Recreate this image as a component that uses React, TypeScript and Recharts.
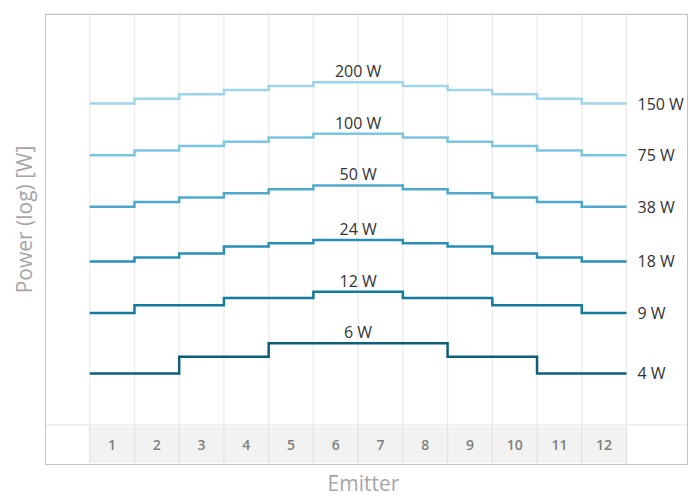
import { LineChart, Line, XAxis, YAxis, CartesianGrid, ReferenceLine } from 'recharts'

const emitters = [1, 2, 3, 4, 5, 6, 7, 8, 9, 10, 11, 12]
const boundaries = [0.5, 1.5, 2.5, 3.5, 4.5, 5.5, 6.5, 7.5, 8.5, 9.5, 10.5, 11.5, 12.5]
const yTicks = [2, 3, 4, 5, 6, 7, 8, 9, 10, 20, 30, 40, 50, 60, 70, 80, 90, 100, 200, 300, 400]

const power6 = [4, 4, 5, 5, 6, 6, 6, 6, 5, 5, 4, 4]
const power12 = [9, 10, 10, 11, 11, 12, 12, 11, 11, 10, 10, 9]
const power24 = [18, 19, 20, 22, 23, 24, 24, 23, 22, 20, 19, 18]
const power50 = [37.5, 40, 42.5, 45, 47.5, 50, 50, 47.5, 45, 42.5, 40, 37.5]
const power100 = [75, 80, 85, 90, 95, 100, 100, 95, 90, 85, 80, 75]
const power200 = [150, 160, 170, 180, 190, 200, 200, 190, 180, 170, 160, 150]

const series = [
  { key: 'p6', values: power6, color: '#0c5f7b' },
  { key: 'p12', values: power12, color: '#117a9d' },
  { key: 'p24', values: power24, color: '#2a8eb6' },
  { key: 'p50', values: power50, color: '#4eaacd' },
  { key: 'p100', values: power100, color: '#7dc4df' },
  { key: 'p200', values: power200, color: '#9fd4ea' },
]

const FONT = '"Open Sans", sans-serif'
const CELL_W = 44.72

// one row per emitter, placed at its left edge, plus a closing row at the right edge
const rows = emitters.map((e, i) => {
  const row: Record<string, number> = { pos: e - 0.5 }
  series.forEach((s) => (row[s.key] = s.values[i]))
  return row
})
const closing: Record<string, number> = { pos: 12.5 }
series.forEach((s) => (closing[s.key] = s.values[s.values.length - 1]))
const chartData = [...rows, closing]

const makeLabel = (values: number[]) => (props: any) => {
  const { x, y, index } = props
  if (index === 6) {
    return (
      <text x={x} y={y - 5} textAnchor="middle" fill="#333" fontSize={16} fontFamily={FONT}>
        {`${Math.max(...values)} W`}
      </text>
    )
  }
  if (index === chartData.length - 1) {
    return (
      <text x={x + 11} y={y + 6} textAnchor="start" fill="#333" fontSize={16} fontFamily={FONT}>
        {`${Math.round(values[values.length - 1])} W`}
      </text>
    )
  }
  return <g />
}

const EmitterTick = (props: any) => {
  const { x, y, payload } = props
  const left = x - CELL_W / 2
  const last = payload.value === emitters[emitters.length - 1]
  return (
    <g>
      <rect x={left} y={y + 2} width={CELL_W} height={36} fill="#f2f2f2" />
      <line x1={left} x2={left} y1={y} y2={y + 40} stroke="#e4e4e4" strokeWidth={1.3} />
      {last && <line x1={left + CELL_W} x2={left + CELL_W} y1={y} y2={y + 40} stroke="#e4e4e4" strokeWidth={1.3} />}
      <text x={x} y={y + 25} textAnchor="middle" fill="#808080" fontSize={14} fontWeight={600} fontFamily={FONT}>
        {payload.value}
      </text>
    </g>
  )
}

export default function App() {
  return (
    <div style={{ position: 'fixed', left: 0, top: 0, width: 689, height: 496, background: '#fff' }}>
      <LineChart width={689} height={496} data={chartData} margin={{ top: 14, right: 1, left: 0, bottom: 0 }}>
        <CartesianGrid vertical={false} stroke="#ececec" strokeWidth={1.3} />
        {boundaries.map((b) => (
          <ReferenceLine key={b} x={b} stroke="#ececec" strokeWidth={1.3} />
        ))}
        <XAxis
          dataKey="pos"
          type="number"
          domain={[-0.5, 13.875]}
          ticks={emitters}
          allowDataOverflow
          height={71}
          axisLine={false}
          tickLine={false}
          tickSize={0}
          tickMargin={0}
          tick={<EmitterTick />}
          interval={0}
          label={{ value: 'Emitter', position: 'insideBottom', offset: 5, dx: -3, fill: '#a6a6a6', fontSize: 21, fontFamily: FONT }}
        />
        <YAxis
          scale="log"
          domain={[2, 500]}
          ticks={yTicks}
          allowDataOverflow
          width={45}
          tick={false}
          axisLine={false}
          tickLine={false}
          label={{ value: 'Power (log) [W]', angle: -90, position: 'center', dx: 2, fill: '#a6a6a6', fontSize: 21, fontFamily: FONT }}
        />
        {series.map((s) => (
          <Line
            key={s.key}
            dataKey={s.key}
            type="stepAfter"
            stroke={s.color}
            strokeWidth={2.5}
            dot={false}
            activeDot={false}
            isAnimationActive={false}
            label={makeLabel(s.values)}
          />
        ))}
      </LineChart>
      <div
        style={{
          position: 'absolute',
          left: 45,
          top: 14,
          width: 643,
          height: 451,
          boxSizing: 'border-box',
          border: '1.5px solid #c3c3c3',
          pointerEvents: 'none',
        }}
      />
    </div>
  )
}
